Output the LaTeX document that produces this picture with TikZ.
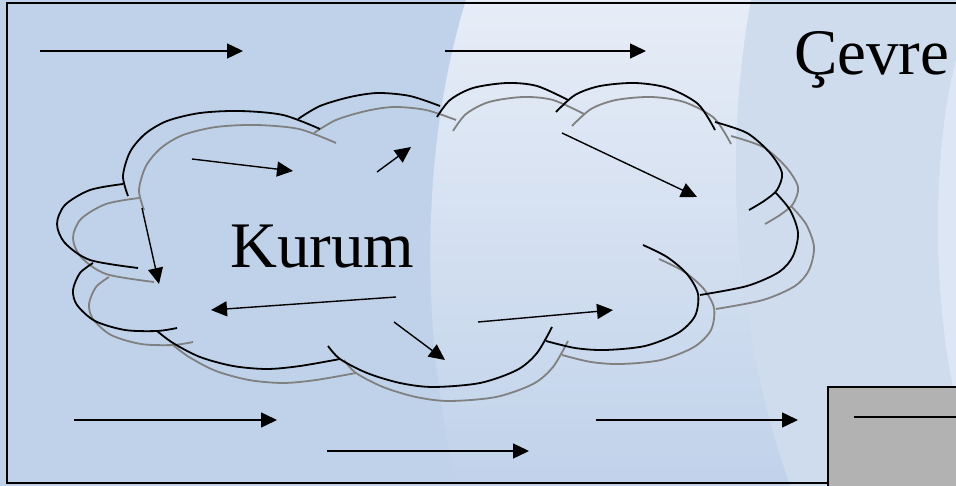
\documentclass[tikz,border=0pt]{standalone}
\usepackage{fontspec}
\setmainfont{Liberation Serif}
\usetikzlibrary{arrows.meta}

\definecolor{bgblue}{RGB}{192,210,234}
\definecolor{bglight}{RGB}{231,237,247}
\definecolor{bgpale}{RGB}{207,220,238}
\definecolor{boxgray}{RGB}{178,178,178}
\definecolor{shadowgray}{RGB}{128,128,128}

\begin{document}
\begin{tikzpicture}
  [x=1pt, y=-1pt,
   flow/.style={line width=1.4pt, -{Triangle[length=16pt, width=15pt]}},
   lobe/.style={line width=1.8pt},
   label/.style={inner sep=0pt, anchor=base west, font=\fontsize{65}{78}\selectfont}]
  \useasboundingbox (0,0) rectangle (956,486);
  \clip (0,0) rectangle (956,486);

  % background
  \fill[bgblue] (0,0) rectangle (956,486);
  \fill[bgpale] (751,0) .. controls (722,160) and (735,330) .. (790,486)
    -- (956,486) -- (956,0) -- cycle;
  \shade[top color=bglight, bottom color=bgblue]
    (466,0) .. controls (420,150) and (420,330) .. (457,486) -- (790,486)
    .. controls (735,330) and (722,160) .. (751,0) -- cycle;
  \fill[bglight!60!bgpale] (956,60) .. controls (932,150) and (932,300) .. (956,400) -- cycle;

  % frame and box
  \draw[line width=2pt] (7,3) rectangle (990,483);
  \draw[line width=1.5pt, fill=boxgray] (828,387) rectangle (990,500);
  \draw[line width=1.4pt] (854,417) -- (990,417);

  \node[label] (kurum) at (230,268) {Kurum};
  \node[label] (cevre) at (794,75) {Çevre};

  % cloud, shadow first
  \foreach \dx/\dy/\col in {16/14/shadowgray, 0/0/black}
  {
    \begin{scope}[shift={(\dx,\dy)}, lobe, color=\col]
      \draw plot[smooth] coordinates {(123,184) (90,190) (65,205) (57,224) (65,243) (90,260) (138,268)};
      \draw plot[smooth] coordinates {(128,196) (123,176) (130,152) (145,134) (167,121) (200,113) (240,111) (283,115) (320,129)};
      \draw plot[smooth] coordinates {(298,119) (320,106) (350,97) (378,93) (410,96) (440,106)};
      \draw plot[smooth] coordinates {(437,117) (450,100) (473,88) (507,83) (537,86) (568,100)};
      \draw plot[smooth] coordinates {(556,112) (575,95) (600,86) (635,83) (668,88) (698,104) (715,130)};
      \draw plot[smooth] coordinates {(715,122) (747,133) (770,153) (782,173) (777,190) (764,201) (749,210)};
      \draw plot[smooth] coordinates {(775,192) (790,210) (798,233) (793,256) (779,272) (747,286) (700,295)};
      \draw plot[smooth] coordinates {(643,245) (667,257) (687,274) (698,294) (695,316) (678,333) (645,346) (605,350) (575,348) (546,341)};
      \draw plot[smooth] coordinates {(328,346) (340,359) (367,373) (400,383) (433,387) (480,383) (517,370) (537,353) (552,327)};
      \draw plot[smooth] coordinates {(157,331) (173,343) (200,357) (233,366) (267,369) (300,366) (340,359)};
      \draw plot[smooth] coordinates {(93,263) (80,273) (73,290) (77,305) (95,321) (125,330) (157,331) (177,328)};
    \end{scope}
  }

  % flows around the organisation
  \coordinate (e1s) at (40,51);   \coordinate (e1t) at (243,51);
  \coordinate (e2s) at (445,51);  \coordinate (e2t) at (646,51);
  \coordinate (e3s) at (74,420);  \coordinate (e3t) at (277,420);
  \coordinate (e4s) at (327,451); \coordinate (e4t) at (529,451);
  \coordinate (e5s) at (596,420); \coordinate (e5t) at (798,420);

  % flows inside the organisation
  \coordinate (k1s) at (192,159); \coordinate (k1t) at (293,171);
  \coordinate (k2s) at (377,172); \coordinate (k2t) at (411,147);
  \coordinate (k3s) at (562,133); \coordinate (k3t) at (697,197);
  \coordinate (k4s) at (142,208); \coordinate (k4t) at (159,284);
  \coordinate (k5s) at (396,297); \coordinate (k5t) at (211,310);
  \coordinate (k6s) at (394,322); \coordinate (k6t) at (445,360);
  \coordinate (k7s) at (478,322); \coordinate (k7t) at (613,310);

  \foreach \from/\to in {e1s/e1t,e2s/e2t,e3s/e3t,e4s/e4t,e5s/e5t,
                         k1s/k1t,k2s/k2t,k3s/k3t,k4s/k4t,k5s/k5t,k6s/k6t,k7s/k7t}
  \draw[flow] (\from) -- (\to);

\end{tikzpicture}
\end{document}
